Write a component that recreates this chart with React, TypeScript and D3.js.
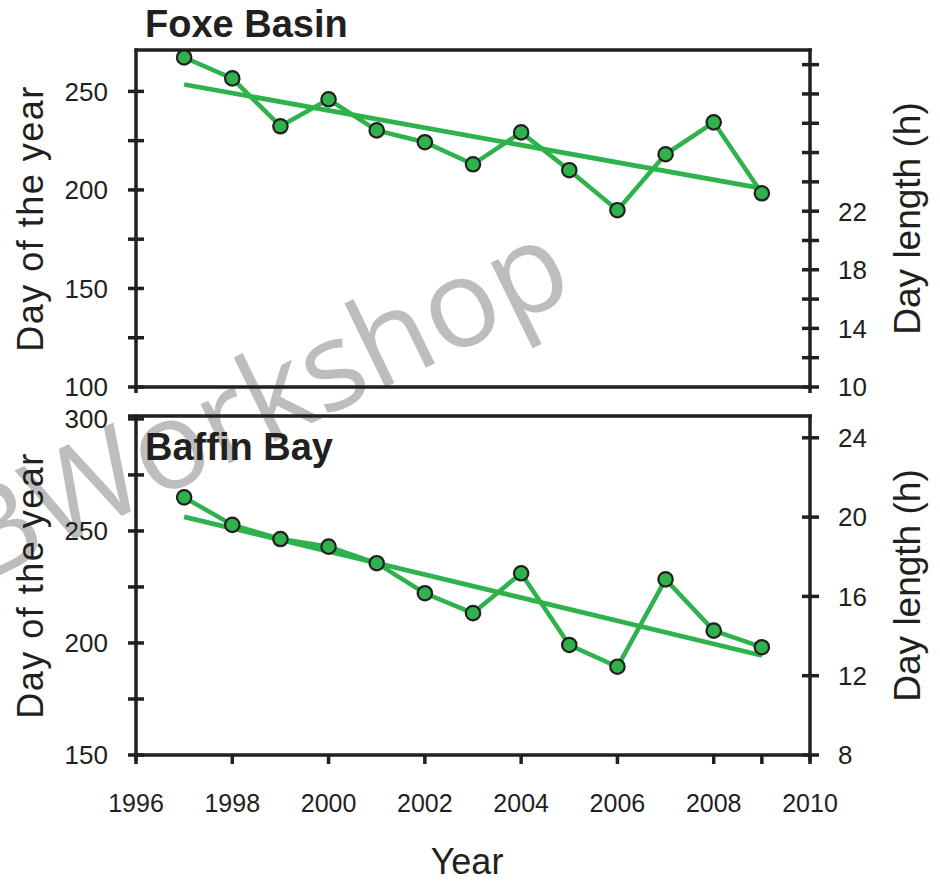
import React from "react";
import * as d3 from "d3";

const years = [1997, 1998, 1999, 2000, 2001, 2002, 2003, 2004, 2005, 2006, 2007, 2008, 2009];
const foxeDays = [267.2, 256.6, 232.3, 246.0, 230.2, 224.2, 213.0, 229.2, 210.0, 189.7, 218.1, 234.3, 198.3];
const baffinDays = [265.0, 252.7, 246.4, 243.0, 235.6, 222.2, 213.3, 231.1, 199.1, 189.4, 228.4, 205.5, 198.1];
const trendYears = [1997, 2009];
const foxeTrend = [253.5, 200.8];
const baffinTrend = [256.3, 194.4];

const xTicks = [1996, 1998, 2000, 2002, 2004, 2006, 2008, 2009, 2010];
const xTickLabels = [1996, 1998, 2000, 2002, 2004, 2006, 2008, 2010];
const foxeLeftTicks = [100, 125, 150, 175, 200, 225, 250];
const foxeLeftLabels = [100, 150, 200, 250];
const foxeRightTicks = [10, 12, 14, 16, 18, 20, 22, 24, 26, 28, 30, 32];
const foxeRightLabels = [10, 14, 18, 22];
const baffinLeftTicks = [150, 175, 200, 225, 250, 275, 300];
const baffinLeftLabels = [150, 200, 250, 300];
const baffinRightTicks = [8, 12, 16, 20, 24];
const baffinRightLabels = [8, 12, 16, 20, 24];

const GREEN = "#2eb24b";
const INK = "#231f20";
const FONT = "'Liberation Sans', Arial, Helvetica, sans-serif";

const X0 = 136;
const X1 = 810;

const x = d3.scaleLinear().domain([1996, 2010]).range([X0, X1]);

type PanelProps = {
  title: string;
  titleY: number;
  days: number[];
  trend: number[];
  yL: d3.ScaleLinear<number, number>;
  yR: d3.ScaleLinear<number, number>;
  leftTicks: number[];
  leftLabels: number[];
  rightTicks: number[];
  rightLabels: number[];
  top: number;
  bottom: number;
  topLineStart: number;
  showX: boolean;
};

function Panel(p: PanelProps) {
  const line = d3
    .line<number>()
    .x((_, i) => x(years[i]))
    .y((d) => p.yL(d));
  const trendLine = d3
    .line<number>()
    .x((_, i) => x(trendYears[i]))
    .y((d) => p.yL(d));
  const mid = (p.top + p.bottom) / 2;
  return (
    <g>
      {/* frame */}
      <line x1={p.topLineStart} x2={X1 + 2} y1={p.top} y2={p.top} stroke={INK} strokeWidth={3.5} />
      <line x1={X0} x2={X1} y1={p.bottom} y2={p.bottom} stroke={INK} strokeWidth={3.5} />
      <line x1={X0} x2={X0} y1={p.top - 1.5} y2={p.bottom + 6} stroke={INK} strokeWidth={3.5} />
      <line x1={X1} x2={X1} y1={p.top - 1.5} y2={p.bottom + 6} stroke={INK} strokeWidth={3.5} />
      {/* left ticks */}
      {p.leftTicks.map((t) => (
        <line key={"lt" + t} x1={X0 - 8} x2={X0 + 8} y1={p.yL(t)} y2={p.yL(t)} stroke={INK} strokeWidth={3.5} />
      ))}
      {p.leftLabels.map((t) => (
        <text key={"ll" + t} x={108} y={p.yL(t)} dy="0.36em" textAnchor="end" fontSize={26} fontFamily={FONT} fill={INK}>
          {t}
        </text>
      ))}
      {/* right ticks */}
      {p.rightTicks.map((t) => (
        <line key={"rt" + t} x1={X1 - 8} x2={X1 + 9} y1={p.yR(t)} y2={p.yR(t)} stroke={INK} strokeWidth={3.5} />
      ))}
      {p.rightLabels.map((t) => (
        <text key={"rl" + t} x={838} y={p.yR(t)} dy="0.36em" textAnchor="start" fontSize={26} fontFamily={FONT} fill={INK}>
          {t}
        </text>
      ))}
      {/* x ticks */}
      {p.showX &&
        xTicks.map((t) => (
          <line key={"xt" + t} x1={x(t)} x2={x(t)} y1={p.bottom} y2={p.bottom + 9} stroke={INK} strokeWidth={3.5} />
        ))}
      {p.showX &&
        xTickLabels.map((t) => (
          <text key={"xl" + t} x={x(t)} y={812} textAnchor="middle" fontSize={25} fontFamily={FONT} fill={INK}>
            {t}
          </text>
        ))}
      {/* axis titles */}
      <text
        transform={`translate(43,${mid}) rotate(-90)`}
        textAnchor="middle"
        fontSize={36}
        letterSpacing={1.5}
        fontFamily={FONT}
        fill={INK}
      >
        Day of the year
      </text>
      <text
        transform={`translate(920,${mid}) rotate(-90)`}
        textAnchor="middle"
        fontSize={37}
        fontFamily={FONT}
        fill={INK}
      >
        Day length (h)
      </text>
      {/* panel title */}
      <text x={145} y={p.titleY} fontSize={38} fontWeight="bold" fontFamily={FONT} fill={INK}>
        {p.title}
      </text>
      {/* data */}
      <path d={trendLine(p.trend) || ""} fill="none" stroke={GREEN} strokeWidth={4.8} />
      <path d={line(p.days) || ""} fill="none" stroke={GREEN} strokeWidth={4.5} strokeLinejoin="miter" />
      {p.days.map((d, i) => (
        <circle key={"c" + i} cx={x(years[i])} cy={p.yL(d)} r={7.2} fill={GREEN} stroke={INK} strokeWidth={2.2} />
      ))}
    </g>
  );
}

export default function App() {
  const yFoxeL = d3.scaleLinear().domain([100, 271]).range([387, 50]);
  const yFoxeR = d3.scaleLinear().domain([10, 33]).range([387, 50]);
  const yBafL = d3.scaleLinear().domain([150, 301.3]).range([755, 416]);
  const yBafR = d3.scaleLinear().domain([8, 25.1]).range([755, 416]);
  return (
    <svg
      width={940}
      height={881}
      viewBox="0 0 940 881"
      style={{ position: "absolute", left: 0, top: 0, background: "#fff" }}
    >
      <rect x={0} y={0} width={940} height={881} fill="#fff" />
      <g transform="translate(-20,585) rotate(-26)">
        <text x={0} y={0} fontSize={123} fontFamily="'Open Sans', 'Noto Sans', sans-serif" fill="#bdbdbd">
          BWorkshop
        </text>
      </g>
      <Panel
        title="Foxe Basin"
        titleY={37}
        days={foxeDays}
        trend={foxeTrend}
        yL={yFoxeL}
        yR={yFoxeR}
        leftTicks={foxeLeftTicks}
        leftLabels={foxeLeftLabels}
        rightTicks={foxeRightTicks}
        rightLabels={foxeRightLabels}
        top={50}
        bottom={387}
        topLineStart={X0 - 1.5}
        showX={false}
      />
      <Panel
        title="Baffin Bay"
        titleY={460}
        days={baffinDays}
        trend={baffinTrend}
        yL={yBafL}
        yR={yBafR}
        leftTicks={baffinLeftTicks}
        leftLabels={baffinLeftLabels}
        rightTicks={baffinRightTicks}
        rightLabels={baffinRightLabels}
        top={416}
        bottom={755}
        topLineStart={X0 - 8}
        showX={true}
      />
      <text x={467} y={874} textAnchor="middle" fontSize={36} fontFamily={FONT} fill={INK}>
        Year
      </text>
    </svg>
  );
}
